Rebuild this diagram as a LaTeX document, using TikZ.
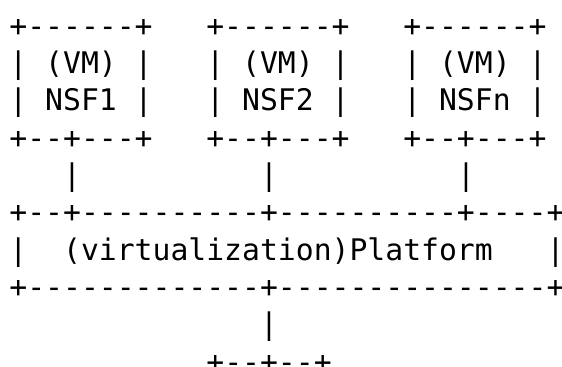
\documentclass[tikz,border=0pt]{standalone}
\usepackage{fontspec}
\setmonofont{DejaVu Sans Mono}

\begin{document}
\begin{tikzpicture}[x=1pt, y=1pt,
        asciirow/.style={anchor=base west, inner sep=0pt,
            font=\ttfamily\fontsize{14.87}{18.67}\selectfont}]
        \useasboundingbox (0, 0) rectangle (281, -183);
        % 三个虚拟机方框
        \node[asciirow] (vmtop) at (4.5, -18) {+------+~~~+------+~~~+------+};
        \node[asciirow] (vmlabel) at (4.5, -36.67) {|~(VM)~|~~~|~(VM)~|~~~|~(VM)~|};
        \node[asciirow] (nsflabel) at (4.5, -55.33) {|~NSF1~|~~~|~NSF2~|~~~|~NSFn~|};
        \node[asciirow] (vmbottom) at (4.5, -74) {+--+---+~~~+--+---+~~~+--+---+};
        % 连到平台的竖线
        \node[asciirow] (vmlinks) at (4.5, -92.67) {~~~|~~~~~~~~~~|~~~~~~~~~~|};
        % 平台方框
        \node[asciirow] (platformtop) at (4.5, -111.33) {+--+----------+----------+----+};
        \node[asciirow] (platformlabel) at (4.5, -130) {|~~(virtualization)Platform~~~|};
        \node[asciirow] (platformbottom) at (4.5, -148.67) {+-------------+---------------+};
        % 下方的连线和方框
        \node[asciirow] (platformlink) at (4.5, -167.33) {~~~~~~~~~~~~~~|};
        \node[asciirow] (nextbox) at (4.5, -186) {~~~~~~~~~~~+--+--+};
    \end{tikzpicture}
\end{document}
